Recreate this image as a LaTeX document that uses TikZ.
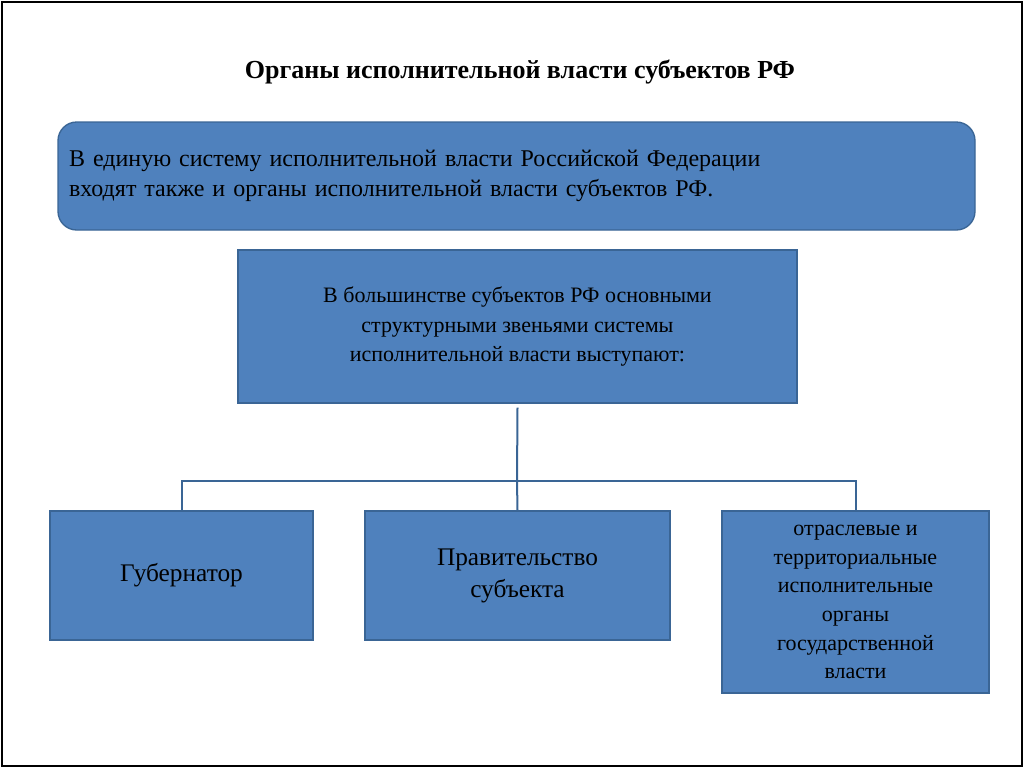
\documentclass[tikz,border=0pt]{standalone}
\usepackage{fontspec}
\setmainfont{Liberation Serif}
\definecolor{boxblue}{HTML}{4F81BD}
\definecolor{boxline}{HTML}{3A6595}
\begin{document}
\begin{tikzpicture}[x=0.75pt,y=-0.75pt,
    box/.style={draw=boxline, fill=boxblue, line width=1pt, inner sep=2pt, align=center},
    link/.style={draw=boxline, line width=1.5pt}
]
    \useasboundingbox (0,0) rectangle (1024,768);
    \draw[line width=0.8pt] (2,2) rectangle (1022,766);

    \node[font=\bfseries\fontsize{19.5}{23}\selectfont] (title) at (520,72) {Органы исполнительной власти субъектов РФ};

    \node[box, rounded corners=14pt, minimum width=917*0.75pt, minimum height=108*0.75pt, align=left, text width=895*0.75pt,
        font=\fontsize{18}{23}\selectfont] (intro) at (516.5,176)
        {В единую систему исполнительной власти Российской Федерации\\входят также и органы исполнительной власти субъектов РФ.};

    \node[box, minimum width=559*0.75pt, minimum height=153*0.75pt, font=\fontsize{16.5}{22}\selectfont] (main) at (517.5,326.5)
        {В большинстве субъектов РФ основными\\структурными звеньями системы\\исполнительной власти выступают:};

    \node[box, minimum width=263*0.75pt, minimum height=129*0.75pt, font=\fontsize{19}{24}\selectfont] (gov) at (181.5,575.5) {Губернатор};
    \node[box, minimum width=305*0.75pt, minimum height=129*0.75pt, font=\fontsize{19}{24}\selectfont] (cab) at (517.5,575.5) {Правительство\\субъекта};
    \node[box, minimum width=267*0.75pt, minimum height=182*0.75pt, font=\fontsize{16.5}{21.5}\selectfont] (org) at (855.5,602)
        {отраслевые и\\территориальные\\исполнительные\\органы\\государственной\\власти};

    \coordinate (hub) at (517,481);
    \draw[link] ([yshift=-3pt]main.south) -- (hub);
    \draw[link] (hub) -| (gov.north);
    \draw[link] (hub) -- (cab.north);
    \draw[link] (hub) -| (org.north);
\end{tikzpicture}
\end{document}
